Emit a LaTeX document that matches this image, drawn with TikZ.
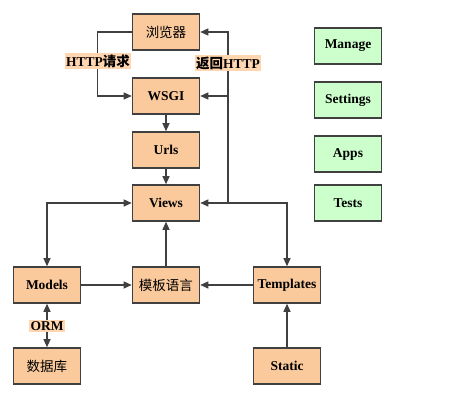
\documentclass[tikz,border=0pt]{standalone}
\usepackage{fontspec}
\setmainfont{Liberation Serif}
\newfontfamily\cjk{Noto Sans CJK SC}
\usetikzlibrary{arrows.meta,positioning}
\definecolor{BoxOrange}{RGB}{250,201,156}
\definecolor{BoxGreen}{RGB}{204,255,204}
\definecolor{LabelOrange}{RGB}{255,214,176}
\definecolor{EdgeGray}{RGB}{64,64,64}
\tikzset{
  module/.style={draw=EdgeGray,fill=BoxOrange,line width=1.6pt,
    minimum width=67pt,minimum height=36pt,inner sep=0pt,
    font=\fontsize{13.5}{15}\selectfont\bfseries},
  helper/.style={module,fill=BoxGreen},
  tag/.style={fill=LabelOrange,inner sep=1.5pt,
    font=\fontsize{13.5}{15}\selectfont\bfseries},
  arrow/.style={-{Triangle[length=8pt,width=7pt]},line width=1.3pt,EdgeGray},
  dblarrow/.style={{Triangle[length=8pt,width=7pt]}-{Triangle[length=8pt,width=7pt]},
    line width=1.3pt,EdgeGray}
}

\begin{document}
\begin{tikzpicture}[x=1pt,y=-1pt]
  \useasboundingbox (0,0) rectangle (467,417);
  % request chain
  \node[module] (browser) at (166,32) {\cjk\mdseries 浏览器};
  \node[module] (wsgi) at (166,96) {WSGI};
  \node[module] (urls) at (166,150) {Urls};
  \node[module] (views) at (166,203) {Views};
  \node[module] (models) at (47,285) {Models};
  \node[module] (tpllang) at (166,285) {\cjk\mdseries 模板语言};
  \node[module] (templates) at (287,285) {Templates};
  \node[module] (db) at (47,366) {\cjk\mdseries 数据库};
  \node[module] (static) at (287,366) {Static};
  % project files
  \node[helper] (manage) at (348,46) {Manage};
  \node[helper] (settings) at (348,100) {Settings};
  \node[helper] (apps) at (348,154) {Apps};
  \node[helper] (tests) at (348,203) {Tests};

  \coordinate (ret) at (228,203);
  \draw[arrow] (browser.west) -- ++(-34,0) |- (wsgi.west);
  \draw[arrow] (ret) |- (browser.east);
  \draw[arrow] (ret |- wsgi.east) -- (wsgi.east);
  \draw[arrow] (wsgi) -- (urls);
  \draw[arrow] (urls) -- (views);
  \draw[dblarrow] (views.east) -| (templates.north);
  \draw[dblarrow] (views.west) -| (models.north);
  \draw[arrow] (tpllang) -- (views);
  \draw[arrow] (models) -- (tpllang);
  \draw[arrow] (templates) -- (tpllang);
  \draw[arrow] (static) -- (templates);
  \draw[dblarrow] (models) -- (db);

  \node[tag] (req) at (98,61) {HTTP{\cjk 请求}};
  \node[tag] (back) at (228,63) {{\cjk 返回}HTTP};
  \node[tag] (orm) at (47,326) {ORM};
\end{tikzpicture}
\end{document}
